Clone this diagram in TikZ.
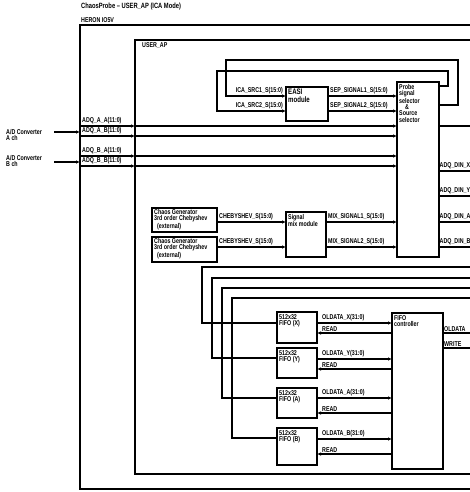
\documentclass[tikz,border=0pt]{standalone}
\usepackage{fontspec}
\setmainfont{Liberation Sans}[FakeStretch=0.76]
\usetikzlibrary{arrows.meta}
\begin{document}
\begin{tikzpicture}[x=1pt,y=-1pt,
  box/.style={draw, line width=1.3pt, anchor=north west, inner sep=0pt, outer sep=0pt},
  lbl/.style={font=\bfseries\fontsize{7}{6}\selectfont, inner sep=0pt, anchor=south west},
  btxt/.style={font=\bfseries\fontsize{7}{6.3}\selectfont, inner sep=0pt, anchor=north west, align=left},
  wire/.style={line width=1.3pt},
  arr/.style={wire, -{Latex[length=4pt,width=3.5pt]}},
]
\useasboundingbox (0,0) rectangle (470,492);
\fill[white] (0,0) rectangle (470,492);

% titles
\node[btxt, font=\bfseries\fontsize{7.6}{7}\selectfont] (title) at (81,3) {ChaosProbe -- USER\_AP (ICA Mode)};
\node[btxt] (herontxt) at (81,17) {HERON IO5V};

% containers
\node[box, minimum width=430pt, minimum height=464pt] (heron) at (80,25) {};
\node[box, minimum width=360pt, minimum height=434pt] (userap) at (135,40) {};
\node[btxt] (useraptxt) at (142,42) {USER\_AP};

% blocks
\node[box, minimum width=42pt, minimum height=175pt] (sel) at (397,82) {};
\node[btxt] (seltxt) at (399,84) {Probe\\signal\\selector\\\hspace{6pt}\&\\Source\\selector};
\node[box, minimum width=42pt, minimum height=34pt] (easi) at (286,87) {};
\node[btxt, font=\bfseries\fontsize{8}{7.5}\selectfont] (easitxt) at (288,89) {EASI\\module};
\node[box, minimum width=40pt, minimum height=45pt] (mix) at (286,212) {};
\node[btxt] (mixtxt) at (288,214) {Signal\\mix module};
\node[box, minimum width=65pt, minimum height=24pt] (chaos1) at (152,208) {};
\node[btxt] (chaos1txt) at (154,209) {Chaos Generator\\3rd order Chebyshev\\\hspace{3pt}(external)};
\node[box, minimum width=65pt, minimum height=25pt] (chaos2) at (152,237) {};
\node[btxt] (chaos2txt) at (154,238) {Chaos Generator\\3rd order Chebyshev\\\hspace{3pt}(external)};

\node[box, minimum width=40pt, minimum height=31pt] (fifox) at (277,312) {};
\node[btxt] (fifoxtxt) at (279,314) {512x32\\FIFO (X)};
\node[box, minimum width=40pt, minimum height=30pt] (fifoy) at (277,348) {};
\node[btxt] (fifoytxt) at (279,350) {512x32\\FIFO (Y)};
\node[box, minimum width=40pt, minimum height=30pt] (fifoa) at (277,388) {};
\node[btxt] (fifoatxt) at (279,390) {512x32\\FIFO (A)};
\node[box, minimum width=40pt, minimum height=37pt] (fifob) at (277,428) {};
\node[btxt] (fifobtxt) at (279,430) {512x32\\FIFO (B)};
\node[box, minimum width=51pt, minimum height=156pt] (ctrl) at (392,313) {};
\node[btxt] (ctrltxt) at (394,315) {FIFO\\controller};

% external inputs
\node[btxt, font=\bfseries\fontsize{7}{5.8}\selectfont] (adcA) at (6,129) {A/D Converter\\A ch};
\node[btxt, font=\bfseries\fontsize{7}{5.8}\selectfont] (adcB) at (6,155) {A/D Converter\\B ch};
\coordinate (adcAend) at (54,132);
\coordinate (adcBend) at (54,162);
\draw[arr] (adcAend) -- (heron.west |- adcAend);
\draw[arr] (adcBend) -- (heron.west |- adcBend);

% ADQ lines
\coordinate (yAA) at (0,126);
\coordinate (yAB) at (0,136);
\coordinate (yBA) at (0,156);
\coordinate (yBB) at (0,166);
\foreach \c/\t in {yAA/ADQ\_A\_A(11:0), yAB/ADQ\_A\_B(11:0), yBA/ADQ\_B\_A(11:0), yBB/ADQ\_B\_B(11:0)}{
  \draw[arr] (heron.west |- \c) -- (userap.west |- \c);
  \draw[arr] (userap.west |- \c) -- (sel.west |- \c);
  \node[lbl] at ([xshift=2pt, yshift=1.5pt]heron.west |- \c) {\t};
}

% feedback loops to EASI
\coordinate (o1) at (458,60);
\coordinate (o2) at (226,96);
\coordinate (i1) at (448,71);
\coordinate (i2) at (217,111);
\coordinate (ys1) at (0,105);
\coordinate (ys2) at (0,86);
\draw[arr] (sel.east |- ys1) -| (o1) -| (o2) -- (easi.west |- o2);
\draw[arr] (sel.east |- ys2) -| (i1) -| (i2) -- (easi.west |- i2);
\node[lbl, anchor=south east] at ([xshift=-3pt, yshift=1.5pt]easi.west |- o2) {ICA\_SRC1\_S(15:0)};
\node[lbl, anchor=south east] at ([xshift=-3pt, yshift=1.5pt]easi.west |- i2) {ICA\_SRC2\_S(15:0)};

% EASI outputs
\draw[arr] (easi.east |- o2) -- (sel.west |- o2);
\draw[arr] (easi.east |- i2) -- (sel.west |- i2);
\node[lbl] at ([xshift=2pt, yshift=1.5pt]easi.east |- o2) {SEP\_SIGNAL1\_S(15:0)};
\node[lbl] at ([xshift=2pt, yshift=1.5pt]easi.east |- i2) {SEP\_SIGNAL2\_S(15:0)};

% chaos generators -> mix
\coordinate (ym1) at (0,222);
\coordinate (ym2) at (0,247);
\draw[arr] (chaos1.east |- ym1) -- (mix.west |- ym1);
\draw[arr] (chaos2.east |- ym2) -- (mix.west |- ym2);
\node[lbl] at ([xshift=2pt, yshift=1.5pt]chaos1.east |- ym1) {CHEBYSHEV\_S(15:0)};
\node[lbl] at ([xshift=2pt, yshift=1.5pt]chaos2.east |- ym2) {CHEBYSHEV\_S(15:0)};
\draw[arr] (mix.east |- ym1) -- (sel.west |- ym1);
\draw[arr] (mix.east |- ym2) -- (sel.west |- ym2);
\node[lbl] at ([xshift=2pt, yshift=1.5pt]mix.east |- ym1) {MIX\_SIGNAL1\_S(15:0)};
\node[lbl] at ([xshift=2pt, yshift=1.5pt]mix.east |- ym2) {MIX\_SIGNAL2\_S(15:0)};

% selector outputs
\coordinate (r0) at (480,126);
\coordinate (rX) at (480,171);
\coordinate (rY) at (480,196);
\coordinate (rA) at (480,222);
\coordinate (rB) at (480,247);
\draw[wire] (sel.east |- r0) -- (r0);
\foreach \c/\t in {rX/ADQ\_DIN\_X, rY/ADQ\_DIN\_Y, rA/ADQ\_DIN\_A, rB/ADQ\_DIN\_B}{
  \draw[wire] (sel.east |- \c) -- (\c);
  \node[lbl] at ([xshift=0.5pt, yshift=1.5pt]sel.east |- \c) {\t};
}

% loops into FIFOs
\coordinate (lx) at (480,267); \coordinate (fx) at (202,323);
\coordinate (ly) at (480,278); \coordinate (fy) at (212,358);
\coordinate (la) at (480,288); \coordinate (fa) at (222,398);
\coordinate (lb) at (480,298); \coordinate (fb) at (232,438);
\draw[wire] (lx) -| (fx) -- (fifox.west |- fx);
\draw[wire] (ly) -| (fy) -- (fifoy.west |- fy);
\draw[wire] (la) -| (fa) -- (fifoa.west |- fa);
\draw[wire] (lb) -| (fb) -- (fifob.west |- fb);

% FIFO <-> controller
\foreach \f/\d/\r/\n in {fifox/323/333/X, fifoy/359/369/Y, fifoa/398/413/A, fifob/439/454/B}{
  \coordinate (dd) at (0,\d);
  \coordinate (rr) at (0,\r);
  \draw[arr] (\f.east |- dd) -- (ctrl.west |- dd);
  \draw[arr] (ctrl.west |- rr) -- (\f.east |- rr);
  \node[lbl] at ([xshift=5pt, yshift=1.5pt]\f.east |- dd) {OLDATA\_\n(31:0)};
  \node[lbl] at ([xshift=5pt, yshift=1.5pt]\f.east |- rr) {READ};
}

% controller outputs
\coordinate (co1) at (480,333);
\coordinate (co2) at (480,348);
\draw[wire] (ctrl.east |- co1) -- (co1);
\draw[wire] (ctrl.east |- co2) -- (co2);
\node[lbl] at ([xshift=1pt, yshift=1.5pt]ctrl.east |- co1) {OLDATA};
\node[lbl] at ([xshift=1pt, yshift=1.5pt]ctrl.east |- co2) {WRITE};
\end{tikzpicture}
\end{document}
